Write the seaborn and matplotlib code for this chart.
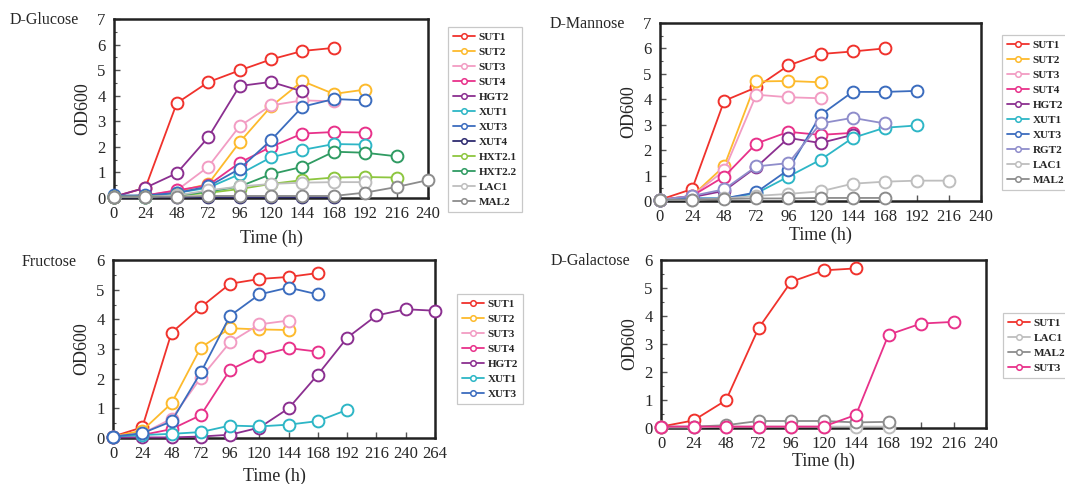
import numpy as np
import pandas as pd
import matplotlib
matplotlib.use("Agg")
import matplotlib.pyplot as plt
from matplotlib.lines import Line2D
from matplotlib.ticker import MultipleLocator
import seaborn as sns

# ---------------- data ----------------
time_h = [0, 24, 48, 72, 96, 120, 144, 168, 192, 216, 240, 264]

# D-Glucose
glc_labels = ["SUT1", "SUT2", "SUT3", "SUT4", "HGT2", "XUT1", "XUT3", "XUT4",
              "HXT2.1", "HXT2.2", "LAC1", "MAL2"]
glc_sut1 = [0.05, 0.40, 3.71, 4.53, 4.99, 5.42, 5.75, 5.87]
glc_sut2 = [0.05, 0.10, 0.25, 0.55, 2.18, 3.58, 4.57, 4.07, 4.24]
glc_sut3 = [0.05, 0.10, 0.30, 1.22, 2.81, 3.62, 3.82, 3.78]
glc_sut4 = [0.05, 0.10, 0.30, 0.50, 1.38, 2.00, 2.52, 2.58, 2.56]
glc_hgt2 = [0.05, 0.40, 0.97, 2.37, 4.38, 4.54, 4.17]
glc_xut1 = [0.05, 0.05, 0.20, 0.40, 0.93, 1.59, 1.88, 2.11, 2.09]
glc_xut3 = [0.10, 0.10, 0.20, 0.45, 1.14, 2.26, 3.57, 3.87, 3.82]
glc_xut4 = [0.02, 0.02, 0.03, 0.03, 0.03, 0.03, 0.03, 0.03]
glc_hxt21 = [0.05, 0.05, 0.10, 0.20, 0.35, 0.55, 0.70, 0.80, 0.82, 0.80]
glc_hxt22 = [0.05, 0.05, 0.10, 0.25, 0.45, 0.93, 1.22, 1.81, 1.77, 1.63]
glc_lac1 = [0.05, 0.05, 0.10, 0.30, 0.45, 0.55, 0.60, 0.62, 0.62]
glc_mal2 = [0.05, 0.05, 0.05, 0.08, 0.08, 0.08, 0.08, 0.08, 0.21, 0.43, 0.70]

# D-Mannose
man_labels = ["SUT1", "SUT2", "SUT3", "SUT4", "HGT2", "XUT1", "XUT3", "RGT2",
              "LAC1", "MAL2"]
man_sut1 = [0.05, 0.47, 3.94, 4.47, 5.33, 5.78, 5.88, 6.00]
man_sut2 = [0.05, 0.20, 1.37, 4.70, 4.72, 4.67]
man_sut3 = [0.05, 0.20, 1.20, 4.18, 4.08, 4.04]
man_sut4 = [0.05, 0.20, 0.96, 2.26, 2.72, 2.60, 2.68]
man_hgt2 = [0.05, 0.15, 0.40, 1.33, 2.48, 2.28, 2.60]
man_xut1 = [0.05, 0.10, 0.10, 0.30, 0.96, 1.62, 2.48, 2.88, 2.97]
man_xut3 = [0.05, 0.10, 0.10, 0.34, 1.23, 3.38, 4.29, 4.29, 4.33]
man_rgt2 = [0.05, 0.20, 0.46, 1.36, 1.49, 3.05, 3.27, 3.05]
man_lac1 = [0.05, 0.05, 0.10, 0.20, 0.28, 0.38, 0.68, 0.76, 0.80, 0.80]
man_mal2 = [0.05, 0.05, 0.08, 0.10, 0.10, 0.12, 0.12, 0.12]

# Fructose
fru_labels = ["SUT1", "SUT2", "SUT3", "SUT4", "HGT2", "XUT1", "XUT3"]
fru_sut1 = [0.05, 0.36, 3.55, 4.41, 5.20, 5.36, 5.43, 5.56]
fru_sut2 = [0.05, 0.25, 1.17, 3.05, 3.70, 3.66, 3.64]
fru_sut3 = [0.05, 0.15, 0.65, 2.03, 3.23, 3.83, 3.96]
fru_sut4 = [0.05, 0.10, 0.30, 0.77, 2.30, 2.78, 3.03, 2.91]
fru_hgt2 = [0.02, 0.02, 0.02, 0.05, 0.11, 0.35, 1.00, 2.14, 3.38, 4.13, 4.34, 4.29]
fru_xut1 = [0.05, 0.10, 0.14, 0.20, 0.42, 0.39, 0.45, 0.57, 0.95]
fru_xut3 = [0.05, 0.16, 0.56, 2.21, 4.12, 4.84, 5.07, 4.84]

# D-Galactose
gal_labels = ["SUT1", "LAC1", "MAL2", "SUT3"]
gal_sut1 = [0.05, 0.27, 0.99, 3.56, 5.22, 5.63, 5.70]
gal_lac1 = [0.02, 0.02, 0.05, 0.05, 0.05, 0.05, 0.05, 0.05]
gal_mal2 = [0.05, 0.05, 0.10, 0.25, 0.25, 0.25, 0.20, 0.22]
gal_sut3 = [0.05, 0.05, 0.05, 0.05, 0.05, 0.05, 0.47, 3.33, 3.73, 3.79]

colors = {
    "SUT1": "#F0322C", "SUT2": "#FDBA2C", "SUT3": "#F29CC3", "SUT4": "#E8318A",
    "HGT2": "#8B2F90", "XUT1": "#2DB6C6", "XUT3": "#3B6CBE", "XUT4": "#2E2B70",
    "HXT2.1": "#8DC63F", "HXT2.2": "#2F9B62", "LAC1": "#BEBEBE", "MAL2": "#8C8C8C",
    "RGT2": "#8F8DCB",
}
gal_colors = {"SUT1": "#F0322C", "LAC1": "#BEBEBE", "MAL2": "#8C8C8C", "SUT3": "#E8318A"}

panels = [
    dict(title="D-Glucose", labels=glc_labels,
         series=[glc_sut1, glc_sut2, glc_sut3, glc_sut4, glc_hgt2, glc_xut1, glc_xut3,
                 glc_xut4, glc_hxt21, glc_hxt22, glc_lac1, glc_mal2],
         cmap=colors, xmax=240, ymax=7, xlpad=5,
         rect=[114, 19, 428, 198], title_xy=(10, 20), leg_xy=(448, 27)),
    dict(title="D-Mannose", labels=man_labels,
         series=[man_sut1, man_sut2, man_sut3, man_sut4, man_hgt2, man_xut1, man_xut3,
                 man_rgt2, man_lac1, man_mal2],
         cmap=colors, xmax=240, ymax=7, xlpad=1,
         rect=[660, 23, 981, 201], title_xy=(550, 24), leg_xy=(1002, 35)),
    dict(title="Fructose", labels=fru_labels,
         series=[fru_sut1, fru_sut2, fru_sut3, fru_sut4, fru_hgt2, fru_xut1, fru_xut3],
         cmap=colors, xmax=264, ymax=6, xlpad=4,
         rect=[113, 260, 435, 438], title_xy=(22, 262), leg_xy=(457, 294)),
    dict(title="D-Galactose", labels=gal_labels,
         series=[gal_sut1, gal_lac1, gal_mal2, gal_sut3],
         cmap=gal_colors, xmax=240, ymax=6, xlpad=0,
         rect=[661, 260, 986, 428], title_xy=(551, 261), leg_xy=(1003, 313)),
]

# ---------------- style ----------------
sns.set_style("ticks")
plt.rcParams["font.family"] = ["Liberation Serif", "DejaVu Serif"]
plt.rcParams["axes.linewidth"] = 1.8

W, H = 1065, 484
fig = plt.figure(figsize=(W / 100, H / 100), dpi=100)

for p in panels:
    l, t, r, b = p["rect"]
    ax = fig.add_axes([l / W, 1 - b / H, (r - l) / W, (b - t) / H])
    for lab, vals in zip(p["labels"], p["series"]):
        c = p["cmap"][lab]
        df = pd.DataFrame({"Time": time_h[:len(vals)], "OD": vals})
        sns.lineplot(data=df, x="Time", y="OD", ax=ax, color=c, linewidth=1.3,
                     marker="o", markersize=8.5, markerfacecolor="white",
                     markeredgecolor=c, markeredgewidth=1.4, clip_on=False,
                     legend=False, zorder=3)
    ax.set_xlim(0, p["xmax"])
    ax.set_ylim(0, p["ymax"])
    ax.set_xticks(np.arange(0, p["xmax"] + 1, 24))
    ax.set_yticks(np.arange(0, p["ymax"] + 1, 1))
    ax.yaxis.set_minor_locator(MultipleLocator(0.5))
    ax.tick_params(axis="both", which="major", direction="in", length=4,
                   width=1, labelsize=12, pad=6, color="#555555")
    ax.tick_params(axis="y", which="minor", direction="in", length=2.5,
                   width=0.8, color="#555555")
    for s in ax.spines.values():
        s.set_color("#222222")
        s.set_linewidth(1.8)
    ax.set_xlabel("Time (h)", fontsize=13, labelpad=p["xlpad"])
    ax.set_ylabel("OD600", fontsize=13, labelpad=4)

    fig.text(p["title_xy"][0] / W, 1 - p["title_xy"][1] / H, p["title"],
             fontsize=11.5, ha="left", va="center")

    handles = [Line2D([0], [0], color=p["cmap"][lab], linewidth=1.3, marker="o",
                      markersize=4, markerfacecolor="white",
                      markeredgecolor=p["cmap"][lab], markeredgewidth=1.1)
               for lab in p["labels"]]
    lx, ly = p["leg_xy"]
    leg = fig.legend(handles, p["labels"], loc="upper left",
                     bbox_to_anchor=(lx / W, 1 - ly / H), frameon=True,
                     fancybox=False, fontsize=8, handlelength=2.0,
                     handletextpad=0.3, labelspacing=0.47, borderpad=0.45,
                     borderaxespad=0)
    leg.get_frame().set_edgecolor("#BBBBBB")
    leg.get_frame().set_linewidth(0.9)
    for txt in leg.get_texts():
        txt.set_fontweight("bold")

fig.savefig("out.png", dpi=100)
